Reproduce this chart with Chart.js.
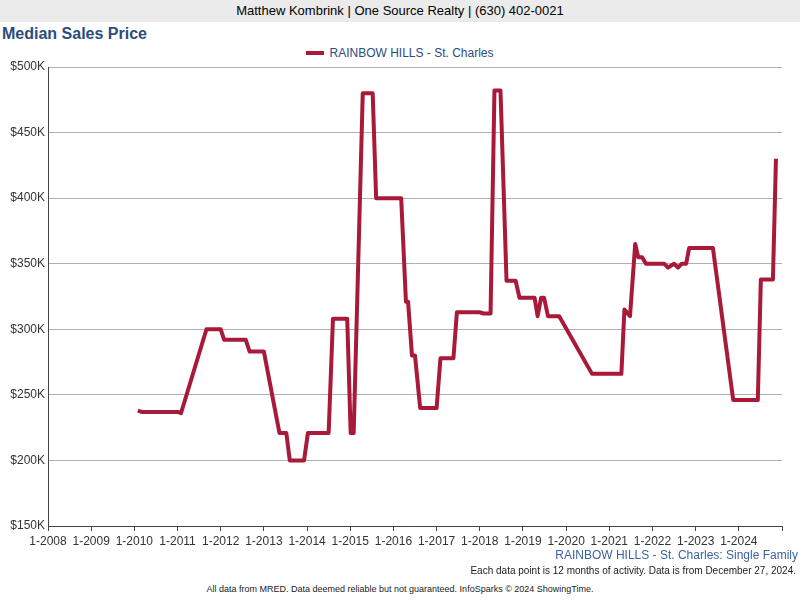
<!DOCTYPE html>
<html><head><meta charset="utf-8">
<script src="https://cdn.jsdelivr.net/npm/chart.js@4/dist/chart.umd.min.js"></script>
<style>
body{margin:0;width:800px;height:600px;position:relative;font-family:"Liberation Sans",Arial,sans-serif;background:#fff;overflow:hidden}
#hdr{position:absolute;left:0;top:0;width:800px;height:22px;background:#ebebeb;text-align:center;font-size:13px;line-height:22px;color:#000}
#ttl{position:absolute;left:2px;top:25px;font-size:16px;font-weight:bold;color:#2b4c7e}
#leg{position:absolute;left:0;width:800px;top:46px;text-align:center;font-size:12px;color:#2b4c7e}
#leg span.sw{display:inline-block;width:18px;height:4px;background:#a8193a;vertical-align:middle;margin-right:5px;position:relative;top:-1px}
#wrap{position:absolute;left:0;top:40px;width:800px;height:510px}
#sub{position:absolute;right:2px;top:548px;font-size:12px;color:#3a64a0}
#note{position:absolute;right:4px;top:565px;font-size:10px;color:#222}
#foot{position:absolute;left:0;width:800px;top:584px;text-align:center;font-size:9px;color:#222}
</style></head><body>
<div id="hdr">Matthew Kombrink | One Source Realty | (630) 402-0021</div>
<div id="ttl">Median Sales Price</div>
<div id="leg"><span class="sw"></span>RAINBOW HILLS - St. Charles</div>
<div id="wrap"><canvas id="c"></canvas></div>
<div id="sub">RAINBOW HILLS - St. Charles: Single Family</div>
<div id="note">Each data point is 12 months of activity. Data is from December 27, 2024.</div>
<div id="foot">All data from MRED. Data deemed reliable but not guaranteed. InfoSparks © 2024 ShowingTime.</div>
<script>
const seriesName = "RAINBOW HILLS - St. Charles";
const dates = [2010.08,2010.17,2011.0,2011.08,2011.67,2012.0,2012.08,2012.58,2012.67,2013.0,2013.36,2013.52,2013.6,2013.93,2014.02,2014.5,2014.6,2014.93,2015.01,2015.08,2015.29,2015.52,2015.6,2016.18,2016.29,2016.34,2016.43,2016.5,2016.62,2017.0,2017.09,2017.39,2017.47,2018.0,2018.09,2018.25,2018.34,2018.48,2018.62,2018.83,2018.92,2019.27,2019.34,2019.42,2019.49,2019.58,2019.84,2020.6,2021.28,2021.35,2021.48,2021.6,2021.67,2021.76,2021.85,2022.27,2022.36,2022.5,2022.59,2022.68,2022.78,2022.85,2023.4,2023.87,2024.44,2024.51,2024.79,2024.86];
const prices = [238,237,237,236,300,300,292,292,283,283,221,221,200,200,221,221,308,308,221,221,480,480,400,400,321,321,280,280,240,240,278,278,313,313,312,312,482,482,337,337,324,324,310,324,324,310,310,266,266,315,310,365,355,355,350,350,347,350,347,350,350,362,362,246,246,338,338,430];
const yTicks = [150,200,250,300,350,400,450,500];
const pts = dates.map((d,i)=>({x:d,y:prices[i]}));
new Chart(document.getElementById('c'),{
 type:'line',
 data:{datasets:[{label:seriesName,data:pts,borderColor:'#a8193a',borderWidth:4,pointRadius:0,tension:0,fill:false,borderJoinStyle:'round'}]},
 options:{responsive:true,maintainAspectRatio:false,animation:false,
  layout:{padding:{top:27,right:18,left:0,bottom:0}},
  plugins:{legend:{display:false},tooltip:{enabled:false}},
  scales:{
   x:{type:'linear',min:2008,max:2025,afterFit:s=>{s.height=24},
      ticks:{stepSize:1,autoSkip:false,color:'#333',font:{size:12,family:'Liberation Sans'},maxRotation:0,callback:v=>v<2025?'1-'+v:''},
      grid:{drawOnChartArea:false,tickLength:5,color:'#444'},border:{color:'#444'}},
   y:{min:150,max:500,afterFit:s=>{s.width=48},afterBuildTicks:s=>{s.ticks=yTicks.map(v=>({value:v}))},
      ticks:{color:'#333',font:{size:12,family:'Liberation Sans'},callback:v=>'$'+v+'K'},
      grid:{color:'#b0b0b0',tickLength:0},border:{color:'#444'}}
  }}
});
</script></body></html>
